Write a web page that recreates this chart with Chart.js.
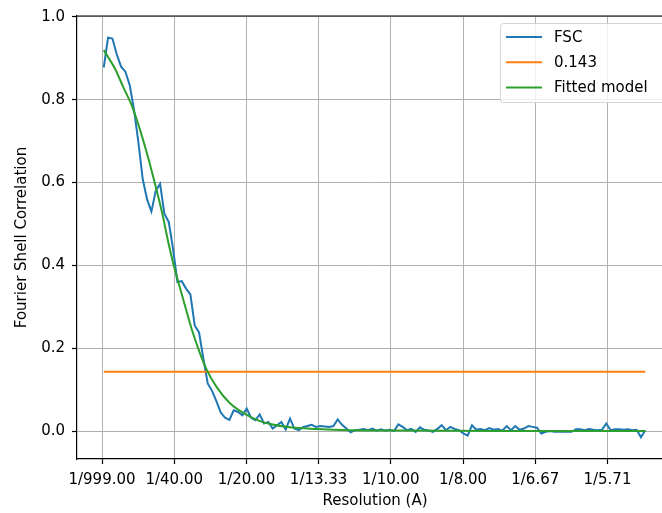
<!DOCTYPE html>
<html>
<head>
<meta charset="utf-8">
<script src="https://cdn.jsdelivr.net/npm/chart.js@4"></script>
<style>
  html, body { margin: 0; padding: 0; background: #fff; overflow: hidden; }
  #wrap { width: 690px; height: 513px; }
</style>
</head>
<body>
<div id="wrap"><canvas id="fsc" width="690" height="513"></canvas></div>
<script>
// spatial frequency of each shell (1/A)
const shellFreq = [
  0.0006, 0.0021, 0.0036, 0.0051, 0.0066, 0.0081, 0.0096, 0.0111, 0.0126, 0.0141,
  0.0156, 0.0171, 0.0186, 0.0201, 0.0216, 0.0231, 0.0246, 0.0261, 0.0276, 0.0291,
  0.0306, 0.0321, 0.0336, 0.0351, 0.0366, 0.0381, 0.0396, 0.0411, 0.0426, 0.0441,
  0.0456, 0.0471, 0.0486, 0.0501, 0.0516, 0.0531, 0.0546, 0.0561, 0.0576, 0.0591,
  0.0606, 0.0621, 0.0636, 0.0651, 0.0666, 0.0681, 0.0696, 0.0711, 0.0726, 0.0741,
  0.0756, 0.0771, 0.0786, 0.0801, 0.0816, 0.0831, 0.0846, 0.0861, 0.0876, 0.0891,
  0.0906, 0.0921, 0.0936, 0.0951, 0.0966, 0.0981, 0.0996, 0.1011, 0.1026, 0.1041,
  0.1056, 0.1071, 0.1086, 0.1101, 0.1116, 0.1131, 0.1146, 0.1161, 0.1176, 0.1191,
  0.1206, 0.1221, 0.1236, 0.1251, 0.1266, 0.1281, 0.1296, 0.1311, 0.1326, 0.1341,
  0.1356, 0.1371, 0.1386, 0.1401, 0.1416, 0.1431, 0.1446, 0.1461, 0.1476, 0.1491,
  0.1506, 0.1521, 0.1536, 0.1551, 0.1566, 0.1581, 0.1596, 0.1611, 0.1626, 0.1641,
  0.1656, 0.1671, 0.1686, 0.1701, 0.1716, 0.1731, 0.1746, 0.1761, 0.1776, 0.1791,
  0.1806, 0.1821, 0.1836, 0.1851, 0.1866, 0.1881
]

const fscValues = [
  0.878, 0.950, 0.948, 0.910, 0.880, 0.868, 0.835, 0.775, 0.697, 0.608,
  0.560, 0.530, 0.580, 0.597, 0.525, 0.505, 0.440, 0.360, 0.362, 0.344,
  0.330, 0.255, 0.238, 0.175, 0.115, 0.097, 0.072, 0.045, 0.032, 0.027,
  0.050, 0.046, 0.038, 0.054, 0.032, 0.026, 0.040, 0.018, 0.022, 0.006,
  0.014, 0.022, 0.004, 0.030, 0.006, 0.002, 0.009, 0.012, 0.015, 0.010,
  0.012, 0.011, 0.010, 0.012, 0.028, 0.015, 0.006, -0.003, 0.002, 0.003,
  0.005, 0.002, 0.006, 0.001, 0.004, 0.001, 0.003, 0.000, 0.016, 0.010,
  0.002, 0.005, -0.002, 0.009, 0.003, 0.001, -0.002, 0.005, 0.014, 0.002,
  0.010, 0.005, 0.002, -0.006, -0.011, 0.014, 0.003, 0.005, 0.002, 0.007,
  0.003, 0.005, 0.001, 0.012, 0.002, 0.012, 0.003, 0.006, 0.012, 0.010,
  0.008, -0.006, -0.002, 0.000, -0.002, -0.001, -0.002, -0.001, -0.002, 0.004,
  0.004, 0.002, 0.005, 0.003, 0.002, 0.003, 0.018, 0.002, 0.004, 0.004,
  0.003, 0.004, 0.002, 0.003, -0.015, 0.002
]

const fitFreq = [
  0.0006, 0.0045, 0.0074, 0.0103, 0.0126, 0.0155, 0.0178, 0.0207, 0.0232, 0.0247,
  0.0282, 0.0311, 0.0339, 0.0363, 0.0397, 0.0443, 0.0501, 0.0547, 0.0582, 0.0651,
  0.0743, 0.0859, 0.1032, 0.1378, 0.1881
]
const fitValues = [
  0.920, 0.875, 0.830, 0.786, 0.740, 0.672, 0.612, 0.530, 0.448, 0.404,
  0.316, 0.245, 0.188, 0.147, 0.106, 0.067, 0.039, 0.024, 0.017, 0.009,
  0.005, 0.002, 0.001, 0.000, 0.000
]

const thresholdFreq = [0.0006, 0.1881]
const threshold     = 0.143

const xTickValues = [0, 0.025, 0.05, 0.075, 0.1, 0.125, 0.15, 0.175]
const xTickLabels = ['1/999.00', '1/40.00', '1/20.00', '1/13.33', '1/10.00', '1/8.00', '1/6.67', '1/5.71']
const yTickValues = [0, 0.2, 0.4, 0.6, 0.8, 1.0]

const FONT = { family: 'DejaVu Sans', size: 15 }
const pts = (xs, ys) => xs.map((x, i) => ({ x, y: ys[i] }))

// matplotlib-ish frame top line + legend box inside the axes
const frameAndLegend = {
  id: 'frameAndLegend',
  afterDraw(chart) {
    const { ctx, chartArea: a } = chart
    ctx.save()
    ctx.strokeStyle = '#000'
    ctx.lineWidth = 1.2
    ctx.beginPath()
    ctx.moveTo(a.left, a.top)
    ctx.lineTo(a.right, a.top)
    ctx.stroke()

    const left = 500.5, top = 23.5, w = 165, h = 79
    ctx.beginPath()
    ctx.roundRect(left, top, w, h, 3)
    ctx.fillStyle = 'rgba(255,255,255,0.8)'
    ctx.fill()
    ctx.strokeStyle = 'rgba(204,204,204,0.8)'
    ctx.lineWidth = 1
    ctx.stroke()

    ctx.font = '15px "DejaVu Sans"'
    ctx.textBaseline = 'middle'
    ctx.textAlign = 'left'
    chart.data.datasets.forEach((ds, i) => {
      const y = 37 + i * 25.3
      ctx.strokeStyle = ds.borderColor
      ctx.lineWidth = 2
      ctx.beginPath()
      ctx.moveTo(506, y)
      ctx.lineTo(542, y)
      ctx.stroke()
      ctx.fillStyle = '#000'
      ctx.fillText(ds.label, 554, y + 1)
    })
    ctx.restore()
  }
}

new Chart(document.getElementById('fsc'), {
  type: 'line',
  data: {
    datasets: [
      { label: 'FSC', data: pts(shellFreq, fscValues), borderColor: '#1f77b4', borderWidth: 2, pointRadius: 0, tension: 0, order: 3 },
      { label: '0.143', data: pts(thresholdFreq, thresholdFreq.map(() => threshold)), borderColor: '#ff7f0e', borderWidth: 2, pointRadius: 0, order: 2 },
      { label: 'Fitted model', data: pts(fitFreq, fitValues), borderColor: '#2ca02c', borderWidth: 2, pointRadius: 0, cubicInterpolationMode: 'monotone', order: 1 },
    ]
  },
  options: {
    responsive: false,
    animation: false,
    devicePixelRatio: 1,
    layout: { padding: { left: 0, top: 15, right: 17, bottom: 0 } },
    plugins: { legend: { display: false }, tooltip: { enabled: false } },
    scales: {
      x: {
        type: 'linear',
        min: -0.00866, max: 0.1977,
        afterBuildTicks: s => { s.ticks = xTickValues.map(value => ({ value })) },
        afterFit: s => { s.height = 54 },
        grid: { color: '#b0b0b0', lineWidth: 1, tickColor: '#000', tickLength: 5, tickWidth: 1.2 },
        border: { color: '#000', width: 1.2 },
        ticks: {
          color: '#000', font: FONT, padding: 7, maxRotation: 0, autoSkip: false,
          callback: (v, i) => xTickLabels[i]
        },
        title: { display: true, text: 'Resolution (A)', color: '#000', font: FONT, padding: { top: 0, bottom: 3 } }
      },
      y: {
        type: 'linear',
        min: -0.0676, max: 1.0024,
        afterBuildTicks: s => { s.ticks = yTickValues.map(value => ({ value })) },
        afterFit: s => { s.width = 77 },
        grid: { color: '#b0b0b0', lineWidth: 1, tickColor: '#000', tickLength: 5, tickWidth: 1.2 },
        border: { color: '#000', width: 1.2 },
        ticks: { color: '#000', font: FONT, padding: 7, callback: v => v.toFixed(1) },
        title: { display: true, text: 'Fourier Shell Correlation', color: '#000', font: FONT, padding: { top: 13, bottom: 0 } }
      }
    }
  },
  plugins: [frameAndLegend]
})
</script>
</body>
</html>
